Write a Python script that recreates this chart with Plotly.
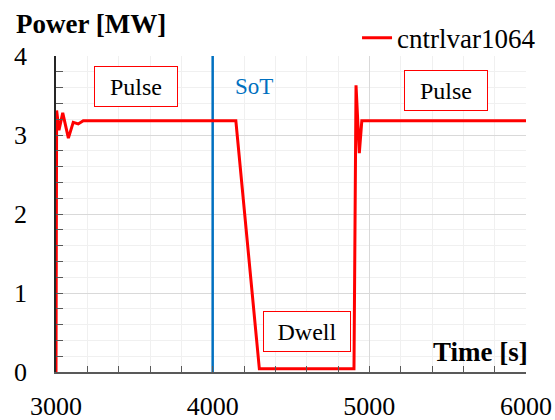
import plotly.graph_objects as go

# ---- data ----
time_s = [3000, 3004, 3019, 3043, 3079, 3110, 3142, 3174, 4148, 4298, 4902, 4915, 4936, 4952, 6000]
power_mw = [0.0, 3.31, 3.06, 3.28, 2.96, 3.16, 3.14, 3.18, 3.18, 0.04, 0.04, 3.63, 2.77, 3.18, 3.18]
series_name = "cntrlvar1064"
sot_time = [4000, 4000]
sot_power = [0, 4]
x_ticks = [3000, 4000, 5000, 6000]
y_ticks = [0, 1, 2, 3, 4]

SERIF = "Liberation Serif, Times New Roman, Tinos, serif"

fig = go.Figure()
fig.add_trace(go.Scatter(x=sot_time, y=sot_power, mode="lines",
                         line=dict(color="#0070C0", width=2.5), showlegend=False,
                         hoverinfo="skip"))
fig.add_trace(go.Scatter(x=time_s, y=power_mw, mode="lines", name=series_name,
                         line=dict(color="#FF0000", width=3)))

fig.update_layout(
    width=555, height=420,
    margin=dict(l=56, r=29, t=56, b=48, autoexpand=False),
    paper_bgcolor="white", plot_bgcolor="white",
    font=dict(family=SERIF, color="black", size=26),
    legend=dict(x=1.032, y=1.056, xanchor="right", yanchor="middle",
                font=dict(family=SERIF, size=27), bgcolor="rgba(0,0,0,0)",
                itemwidth=30, tracegroupgap=0),
    showlegend=True,
)

fig.update_xaxes(
    range=[3000, 6000], tickvals=x_ticks, ticktext=[str(v) for v in x_ticks],
    showgrid=True, gridcolor="#D9D9D9", gridwidth=1,
    showline=True, linecolor="#595959", linewidth=1.5,
    ticks="inside", ticklen=6, tickcolor="#595959", tickwidth=1.2,
    ticklabelstandoff=10, zeroline=False, automargin=False,
    tickfont=dict(family=SERIF, size=26, color="black"),
    minor=dict(dtick=200, showgrid=True, gridcolor="#F0F0F0", gridwidth=1,
               ticks="inside", ticklen=6, tickcolor="#595959", tickwidth=1.2),
)
fig.update_yaxes(
    range=[0, 4], tickvals=y_ticks, ticktext=[str(v) for v in y_ticks],
    showgrid=True, gridcolor="#D9D9D9", gridwidth=1,
    showline=True, linecolor="#262626", linewidth=1.5,
    ticks="inside", ticklen=7, tickcolor="#595959", tickwidth=1.2,
    ticklabelstandoff=22, zeroline=False, automargin=False,
    tickfont=dict(family=SERIF, size=26, color="black"),
    minor=dict(dtick=0.2, showgrid=True, gridcolor="#F0F0F0", gridwidth=1,
               ticks="inside", ticklen=7, tickcolor="#595959", tickwidth=1.2),
)

# axis titles placed as in the reference
fig.add_annotation(text="<b>Power [MW]</b>", xref="paper", yref="paper",
                   x=-0.089, y=1.102, xanchor="left", yanchor="middle",
                   showarrow=False, font=dict(family=SERIF, size=27, color="black"))
fig.add_annotation(text="<b>Time [s]</b>", xref="paper", yref="paper",
                   x=1.008, y=0.063, xanchor="right", yanchor="middle",
                   showarrow=False, font=dict(family=SERIF, size=27, color="black"))

# boxed labels
box = dict(showarrow=False, bordercolor="#FF0000", borderwidth=1, borderpad=1,
           bgcolor="white", font=dict(family=SERIF, size=24, color="black"))
fig.add_annotation(text="Pulse", x=3510, y=3.62, width=80, height=37, **box)
fig.add_annotation(text="Pulse", x=5492, y=3.56, width=80, height=37, **box)
fig.add_annotation(text="Dwell", x=4599, y=0.51, width=84, height=37, **box)
fig.add_annotation(text="SoT", x=4264, y=3.62, showarrow=False,
                   font=dict(family=SERIF, size=23, color="#0070C0"))

fig.write_html("out.html")
